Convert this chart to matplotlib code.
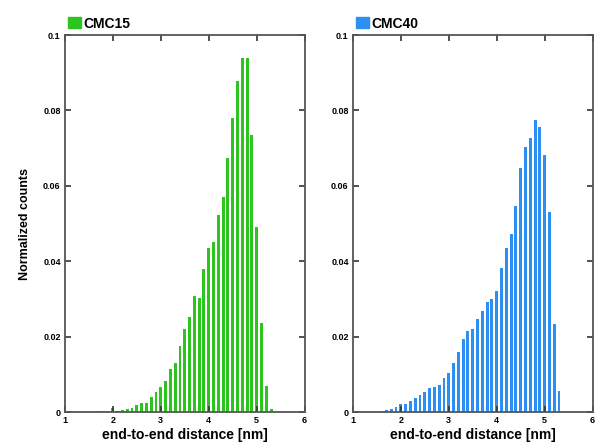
import numpy as np
import matplotlib
matplotlib.use("Agg")
import matplotlib.pyplot as plt
from matplotlib.patches import Patch

plt.rcParams['font.family'] = ['Liberation Sans', 'DejaVu Sans']

# bin centres (nm) and normalized counts
bins_cmc15 = np.round(np.arange(1.7, 5.35, 0.1), 2)
counts_cmc15 = [0.0002, 0.0002, 0.0002, 0.0012, 0.0004, 0.0006, 0.0009, 0.0011,
                0.0019, 0.0024, 0.0024, 0.0041, 0.0052, 0.0067, 0.0083, 0.0115,
                0.0130, 0.0175, 0.0220, 0.0253, 0.0307, 0.0303, 0.0380, 0.0435,
                0.0451, 0.0522, 0.0571, 0.0674, 0.0780, 0.0878, 0.0940, 0.0940,
                0.0735, 0.0490, 0.0235, 0.0069, 0.0009]

bins_cmc40 = np.round(np.arange(1.6, 5.35, 0.1), 2)
counts_cmc40 = [0.0002, 0.0005, 0.0009, 0.0013, 0.0020, 0.0022, 0.0029, 0.0038,
                0.0045, 0.0053, 0.0064, 0.0067, 0.0071, 0.0090, 0.0104, 0.0131,
                0.0158, 0.0194, 0.0215, 0.0221, 0.0248, 0.0267, 0.0292, 0.0299,
                0.0320, 0.0383, 0.0436, 0.0472, 0.0546, 0.0648, 0.0702, 0.0726,
                0.0774, 0.0757, 0.0683, 0.0531, 0.0233, 0.0055]

xticks = [1, 2, 3, 4, 5, 6]
yticks = [0, 0.02, 0.04, 0.06, 0.08, 0.1]
ytick_labels = ['0', '0.02', '0.04', '0.06', '0.08', '0.1']

green = '#2dc41f'
blue = '#2e8ff2'

fig = plt.figure(figsize=(5.95, 4.44), dpi=100)
ax1 = fig.add_axes([0.109, 0.072, 0.403, 0.849])
ax2 = fig.add_axes([0.593, 0.072, 0.403, 0.849])

panels = [(ax1, bins_cmc15, counts_cmc15, green, 'CMC15'),
          (ax2, bins_cmc40, counts_cmc40, blue, 'CMC40')]

for ax, x, y, col, name in panels:
    ax.bar(x, y, width=0.06, color=col, linewidth=0)
    ax.set_xlim(1, 6)
    ax.set_ylim(0, 0.1)
    ax.set_xticks(xticks)
    ax.set_yticks(yticks)
    ax.set_yticklabels(ytick_labels)
    ax.tick_params(direction='in', length=4, width=1.2, color='#333333',
                   top=True, right=True, labelsize=6.5, pad=3)
    for lab in ax.get_xticklabels() + ax.get_yticklabels():
        lab.set_fontweight('bold')
    for sp in ax.spines.values():
        sp.set_linewidth(1.3)
        sp.set_color('#555555')
    ax.set_xlabel('end-to-end distance [nm]', fontsize=10, fontweight='bold', labelpad=2)
    ax.legend(handles=[Patch(color=col)], labels=[name], loc='lower left',
              bbox_to_anchor=(-0.02, 0.99), frameon=False, handlelength=0.9,
              handleheight=0.9, handletextpad=0.15, borderpad=0.1,
              prop={'weight': 'bold', 'size': 10})

ax1.set_ylabel('Normalized counts', fontsize=9, fontweight='bold', labelpad=9)

fig.savefig('out.png', dpi=100)
